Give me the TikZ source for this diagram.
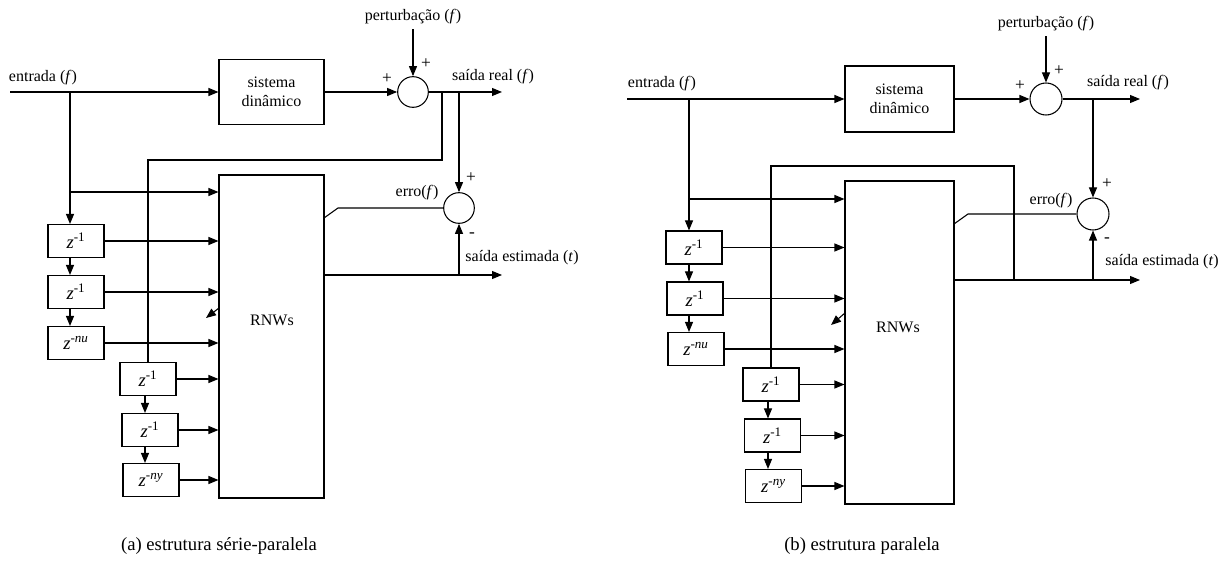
\documentclass[tikz,border=0pt]{standalone}
\usepackage{fontspec}
\setmainfont{Liberation Serif}
\usetikzlibrary{arrows.meta}
\usetikzlibrary{positioning}

\newcommand{\zdel}[1]{\textit{z}\textsuperscript{-#1}}

\begin{document}
\begin{tikzpicture}[x=0.75pt,y=-0.75pt,->,>={Triangle[length=7.5pt,width=6pt]},
	line width=0.8pt,
	every node/.style={font=\fontsize{12}{14}\selectfont},
	block node/.style={draw,inner sep=0pt,align=center},
	sum node/.style={circle,draw,inner sep=0pt,minimum size=23pt},
	delay node/.style={draw,inner sep=0pt,minimum width=42pt,minimum height=24.75pt,font=\fontsize{14}{16}\selectfont},
	sign node/.style={inner sep=0pt,font=\fontsize{13}{15}\selectfont},
	caption node/.style={font=\fontsize{14}{16}\selectfont}]
	
	\useasboundingbox (0,0) rectangle (1228,566);
	
	% (a) estrutura serie-paralela
	\node[block node,minimum width=78.75pt,minimum height=48.75pt] (sisa) at (271.5,92) {sistema\\dinâmico};
	\node[sum node] (suma) at (413,92) {};
	\node[sum node] (erra) at (459,208) {};
	\node[block node,minimum width=78.75pt,minimum height=242.25pt] (rnwa) at (271.5,336.5) {};
	\node (rnwatxt) at (272,320) {RNWs};
	
	\node[delay node] (za1) at (76,241) {\zdel{1}};
	\node[delay node] (za2) at (76,292) {\zdel{1}};
	\node[delay node] (za3) at (76,343) {\zdel{\textit{nu}}};
	\node[delay node] (zb1) at (148,379) {\zdel{1}};
	\node[delay node] (zb2) at (150,430) {\zdel{1}};
	\node[delay node] (zb3) at (151,480) {\zdel{\textit{ny}}};
	
	\node (enta) at (43,78) {entrada (\textit{f})};
	\node (perta) at (413,17) {perturbação (\textit{f})};
	\node (reala) at (493,77) {saída real (\textit{f})};
	\node (erroa) at (417,193) {erro(\textit{f})};
	\node (esta) at (522,258) {saída estimada (\textit{t})};
	\node[sign node] (pa1) at (387,79) {+};
	\node[sign node] (pa2) at (426,64) {+};
	\node[sign node] (pa3) at (471,178) {+};
	\node[sign node] (pa4) at (472,235) {-};
	\node[caption node] (capa) at (219,546) {(a) estrutura série-paralela};
	
	\coordinate (ina) at (10,92);
	\coordinate (bra) at (70,92);
	\coordinate (tapa) at (70,192);
	\coordinate (colb) at (145,0);
	\coordinate (outa) at (502,92);
	\coordinate (fba) at (442,160);
	\coordinate (kinka) at (338,208);
	\coordinate (traina) at (324,218);
	\coordinate (oesta) at (502,275);
	\coordinate (recsa) at (219,308);
	\coordinate (reca) at (206,318);
	
	\draw (ina) -- (sisa.west);
	\draw (sisa.east) -- (suma.west);
	\draw (perta.south) -- (suma.north);
	\draw (suma.east) -- (outa);
	\draw (erra.north |- outa) -- (erra.north);
	\draw[-] (fba |- outa) -- (fba) -- (zb1.north |- fba) -- (zb1.north);
	\draw (bra) -- (bra |- za1.north);
	\draw (tapa) -- (tapa -| rnwa.west);
	\draw (bra |- za1.south) -- (bra |- za2.north);
	\draw (bra |- za2.south) -- (bra |- za3.north);
	\draw (colb |- zb1.south) -- (colb |- zb2.north);
	\draw (colb |- zb2.south) -- (colb |- zb3.north);
	\foreach \z in {za1,za2,za3,zb1,zb2,zb3}
		\draw (\z.east) -- (\z.east -| rnwa.west);
	\draw[-] (erra.west) -- (kinka) -- (traina);
	\draw (oesta -| rnwa.east) -- (oesta);
	\draw (erra.south |- oesta) -- (erra.south);
	\draw (recsa) -- (reca);
	
	% (b) estrutura paralela
	\node[block node,minimum width=81.75pt,minimum height=49.5pt] (sisb) at (899.5,99) {sistema\\dinâmico};
	\node[sum node,minimum size=24pt] (sumb) at (1046,99) {};
	\node[sum node,minimum size=24pt] (errb) at (1093,214) {};
	\node[block node,minimum width=81.75pt,minimum height=242.25pt] (rnwb) at (899.5,342.5) {};
	\node (rnwbtxt) at (898,327) {RNWs};
	
	\node[delay node] (zc1) at (694,247.5) {\zdel{1}};
	\node[delay node] (zc2) at (695,298.5) {\zdel{1}};
	\node[delay node] (zc3) at (696,349) {\zdel{\textit{nu}}};
	\node[delay node] (zd1) at (771,384.5) {\zdel{1}};
	\node[delay node] (zd2) at (772.5,435.5) {\zdel{1}};
	\node[delay node] (zd3) at (773.5,486) {\zdel{\textit{ny}}};
	
	\node (entb) at (662,84) {entrada (\textit{f})};
	\node (pertb) at (1046,24) {perturbação (\textit{f})};
	\node (realb) at (1128,83) {saída real (\textit{f})};
	\node (errob) at (1051,201) {erro(\textit{f})};
	\node (estb) at (1162,262) {saída estimada (\textit{t})};
	\node[sign node] (pb1) at (1020,86) {+};
	\node[sign node] (pb2) at (1059,71) {+};
	\node[sign node] (pb3) at (1107,184) {+};
	\node[sign node] (pb4) at (1107,240) {-};
	\node[caption node] (capb) at (862,546) {(b) estrutura paralela};
	
	\coordinate (inb) at (627,99);
	\coordinate (brb) at (689,99);
	\coordinate (tapb) at (689,199);
	\coordinate (cold) at (768,0);
	\coordinate (outb) at (1140,99);
	\coordinate (fbb) at (1014,166);
	\coordinate (kinkb) at (968,214);
	\coordinate (trainb) at (954,224);
	\coordinate (oestb) at (1140,280);
	\coordinate (recsb) at (845,313);
	\coordinate (recb) at (831,325);
	
	\draw (inb) -- (sisb.west);
	\draw (sisb.east) -- (sumb.west);
	\draw (pertb.south) -- (sumb.north);
	\draw (sumb.east) -- (outb);
	\draw (errb.north |- outb) -- (errb.north);
	\draw[-] (fbb |- oestb) -- (fbb) -- (fbb -| zd1.north) -- (zd1.north);
	\draw (brb) -- (brb |- zc1.north);
	\draw (tapb) -- (tapb -| rnwb.west);
	\draw (brb |- zc1.south) -- (brb |- zc2.north);
	\draw (brb |- zc2.south) -- (brb |- zc3.north);
	\draw (cold |- zd1.south) -- (cold |- zd2.north);
	\draw (cold |- zd2.south) -- (cold |- zd3.north);
	\foreach \z in {zc1,zc2,zc3,zd1,zd2,zd3}
		\draw (\z.east) -- (\z.east -| rnwb.west);
	\draw[-] (errb.west) -- (kinkb) -- (trainb);
	\draw (oestb -| rnwb.east) -- (oestb);
	\draw (errb.south |- oestb) -- (errb.south);
	\draw (recsb) -- (recb);
\end{tikzpicture}
\end{document}
